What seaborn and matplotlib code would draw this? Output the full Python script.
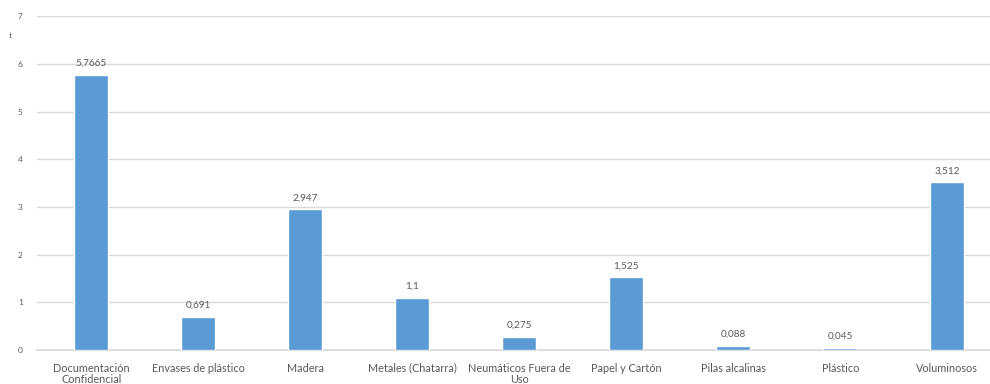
import matplotlib
matplotlib.use("Agg")
import matplotlib.pyplot as plt
import seaborn as sns
import pandas as pd

categories = ["Documentación\nConfidencial", "Envases de plástico", "Madera",
              "Metales (Chatarra)", "Neumáticos Fuera de\nUso", "Papel y Cartón",
              "Pilas alcalinas", "Plástico", "Voluminosos"]
values = [5.7665, 0.691, 2.947, 1.1, 0.275, 1.525, 0.088, 0.045, 3.512]
value_labels = ["5,7665", "0,691", "2,947", "1,1", "0,275", "1,525", "0,088", "0,045", "3,512"]
y_ticks = [0, 1, 2, 3, 4, 5, 6, 7]

sns.set_theme(style="white")
plt.rcParams['font.family'] = ['Lato', 'DejaVu Sans']

df = pd.DataFrame({"cat": categories, "val": values})

fig = plt.figure(figsize=(9.9, 3.84), dpi=100)
ax = fig.add_axes([0.037, 0.0885, 0.963, 0.8695])
sns.barplot(data=df, x="cat", y="val", color="#5B9BD5", width=0.318,
            saturation=1, ax=ax, zorder=3)

ax.set_ylim(0, 7)
ax.set_xlim(-0.51, 8.40)
ax.set_yticks(y_ticks)
ax.set_yticklabels([str(t) for t in y_ticks])
ax.yaxis.grid(True, color="#D9D9D9", linewidth=1)
ax.set_axisbelow(True)
for s in ax.spines.values():
    s.set_visible(False)
ax.spines["bottom"].set_visible(True)
ax.spines["bottom"].set_color("#D9D9D9")
ax.tick_params(axis="both", length=0, colors="#595959")
ax.tick_params(axis="x", labelsize=7.8, pad=9)
ax.tick_params(axis="y", labelsize=6, pad=10)
for lbl in ax.get_xticklabels():
    lbl.set_linespacing(1.05)
ax.set_xlabel("")
ax.set_ylabel("")

for i, (v, t) in enumerate(zip(values, value_labels)):
    ax.annotate(t, (i, v), xytext=(0, 5), textcoords="offset points",
                ha="center", va="bottom", fontsize=7.2, color="#595959")

fig.text(10 / 990, 1 - 36 / 384, "t", fontsize=6, color="#595959", ha="center", va="center")

fig.savefig("out.png", dpi=100)
